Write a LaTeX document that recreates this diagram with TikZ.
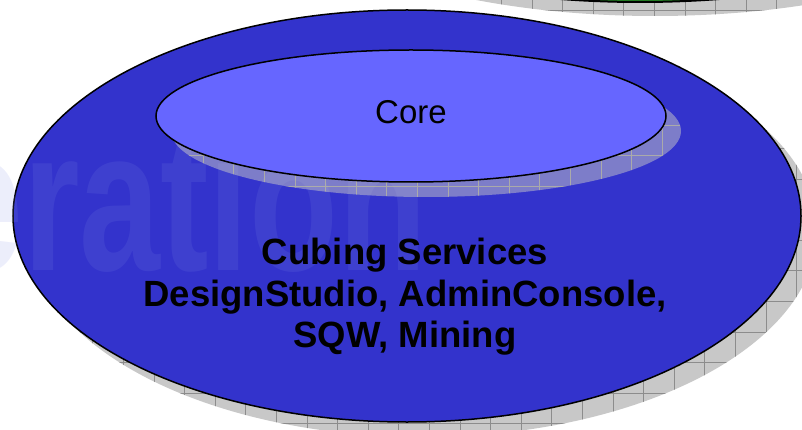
\documentclass[tikz,border=0pt]{standalone}
\usepackage{fontspec}
\setmainfont{Liberation Sans}
\usetikzlibrary{shapes}
\definecolor{cubeblue}{RGB}{51,51,204}
\definecolor{coreblue}{RGB}{102,102,255}
\definecolor{topgreen}{RGB}{40,140,40}
\definecolor{shadowgrey}{RGB}{200,200,200}
\definecolor{gridgrey}{RGB}{140,140,140}
\definecolor{gridkhaki}{RGB}{200,200,150}
\definecolor{markblue}{RGB}{130,140,230}
\tikzstyle{ring}=[ellipse,draw=black,line width=1.5pt,inner sep=0pt]
\tikzstyle{shadowgrid}=[draw=gridgrey,line width=0.8pt]
\tikzstyle{coregrid}=[draw=gridkhaki,line width=0.6pt]
\tikzstyle{captext}=[font=\fontsize{36.5}{41.5}\selectfont\bfseries,align=center,inner sep=0pt]

\begin{document}
\begin{tikzpicture}[x=1pt,y=-1pt]

    \useasboundingbox (0,0) rectangle (802,430);
    \clip (0,0) rectangle (802,430);

    % shadow of the ellipse above (cut off)
    \begin{scope}
        \clip (655,-136) ellipse [x radius=400, y radius=152];
        \fill[shadowgrey] (200,-300) rectangle (850,40);
        \begin{scope}[shift={(11.8,10)}]
            \draw[shadowgrid,step=30.6pt] (200,-300) grid (850,40);
        \end{scope}
    \end{scope}
    \node[ring, fill=topgreen, line width=2pt, minimum width=800pt, minimum height=304pt] (top) at (640,-150) {};

    % shadow of the outer ellipse
    \begin{scope}
        \clip (423,231) ellipse [x radius=394, y radius=206];
        \fill[shadowgrey] (0,0) rectangle (850,450);
        \begin{scope}[shift={(1,26)}]
            \draw[shadowgrid,step=30.6pt] (-40,-40) grid (850,450);
        \end{scope}
    \end{scope}
    \node[ring, fill=cubeblue, minimum width=788pt, minimum height=412pt] (cube) at (407,216) {};

    % watermark
    \node[anchor=base west, xscale=0.72, inner sep=0pt, font=\fontsize{202}{202}\selectfont\bfseries,
          text=markblue, text opacity=0.15] (mark) at (-58,270) {eration};

    % shadow of the core
    \begin{scope}
        \clip (426,131) ellipse [x radius=255, y radius=66];
        \fill[shadowgrey, opacity=0.5] (150,40) rectangle (700,210);
        \begin{scope}[shift={(19.4,2.6)}, opacity=0.6]
            \draw[coregrid,step=30.6pt] (120,20) grid (720,220);
        \end{scope}
    \end{scope}
    \node[ring, fill=coreblue, minimum width=510pt, minimum height=132pt, text depth=8pt,
          font=\fontsize{33}{36}\selectfont] (core) at (411,116) {Core};

    \node[captext] (services) at (405,297) {Cubing Services\\DesignStudio, AdminConsole,\\SQW, Mining};

\end{tikzpicture}
\end{document}
